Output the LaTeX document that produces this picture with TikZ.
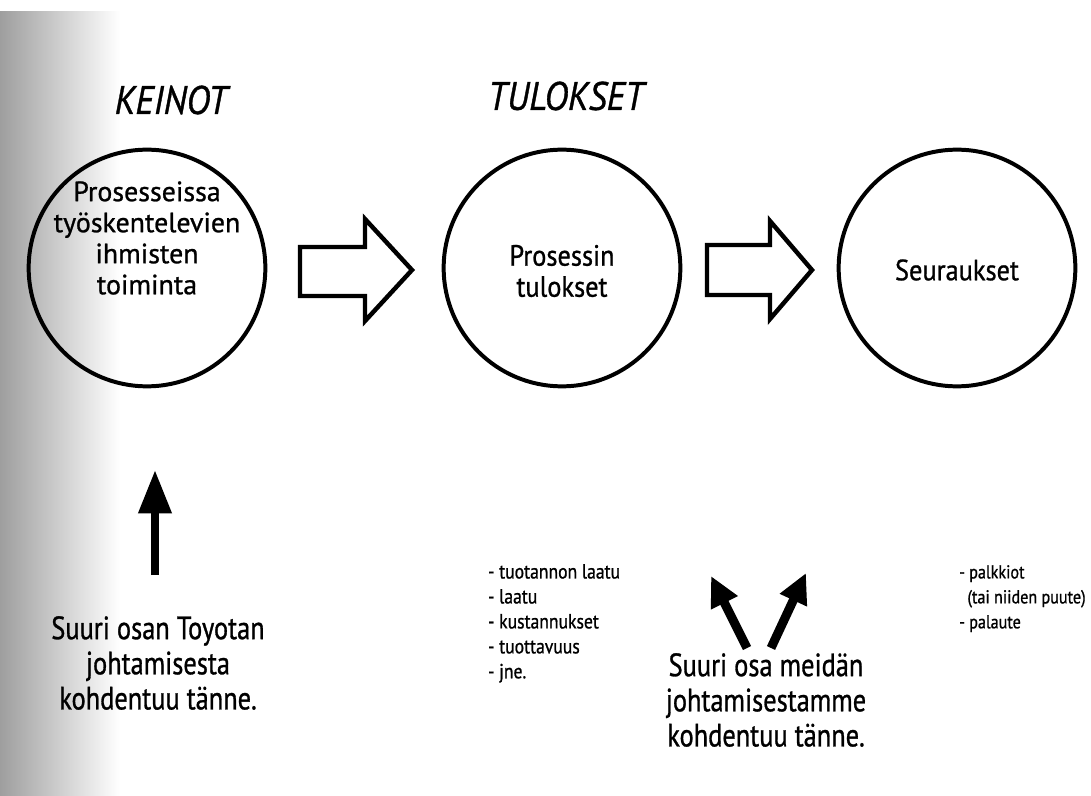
\documentclass[tikz,border=0pt]{standalone}
\usepackage{fontspec}
\setmainfont{PT Sans}
\newfontfamily\cfa[FakeStretch=0.9,FakeBold=0.9]{PT Sans}
\newfontfamily\cfd[FakeBold=0.9]{PT Sans}
\newfontfamily\cfb[FakeStretch=0.82,FakeBold=0.9]{PT Sans}
\newfontfamily\cfc[FakeStretch=0.86,FakeBold=0.9]{PT Sans}
\usetikzlibrary{arrows.meta}
\begin{document}
\begin{tikzpicture}[x=0.03cm,y=-0.03cm,
  circ/.style={draw, circle, line width=3.4pt, minimum size=7.1cm, inner sep=0pt},
  ctext/.style={align=center, font=\cfa\fontsize{25}{26.5}\selectfont},
  ctextbig/.style={align=center, font=\cfd\fontsize{23.8}{26.5}\selectfont},
  title/.style={font=\cfa\fontsize{34}{36}\selectfont\itshape},
  listtext/.style={align=left, anchor=north west, font=\cfc\fontsize{17.5}{21.3}\selectfont},
  listsmall/.style={align=left, anchor=north west, font=\cfc\fontsize{16}{21.3}\selectfont},
  note/.style={align=center, font=\cfb\fontsize{27.5}{30}\selectfont},
  blockarrow/.style={draw, line width=3.8pt, line join=miter, fill=white},
  thickarrow/.style={line width=0.27cm, -{Triangle[length=0.9cm,width=0.84cm]}},
  uparrow/.style={line width=0.24cm, -{Triangle[length=1.3cm,width=0.95cm]}}
]
\useasboundingbox (0,0) rectangle (1091,796);
\fill[white] (0,0) rectangle (1091,796);
\shade[left color=black!38, right color=white] (0,12) rectangle (120,796);

% circles
\node[circ] (c1) at (147,268) {};
\node[circ] (c2) at (562,268) {};
\node[circ] (c3) at (957,268) {};

% titles
\node[title] (t1) at (171,100) {KEINOT};
\node[title] (t2) at (566,96) {TULOKSET};

% circle texts
\node[ctextbig] (x1) at (147,238) {Prosesseissa\\työskentelevien\\ihmisten\\toiminta};
\node[ctext] (x2) at (562,271) {Prosessin\\tulokset};
\node[ctext] (x3) at (957,270) {Seuraukset};

% block arrows
\draw[blockarrow] (300,247) -- (365,247) -- (365,219) -- (412,270) -- (365,321) -- (365,296) -- (300,296) -- cycle;
\draw[blockarrow] (707,245) -- (770,245) -- (770,221) -- (812,270) -- (770,319) -- (770,295) -- (707,295) -- cycle;

% lists
\node[listtext] (l2) at (484,560) {- tuotannon laatu\\- laatu\\- kustannukset\\- tuottavuus\\- jne.};
\node[listsmall] (l3) at (955,561) {- palkkiot\\\hspace*{0.25cm}(tai niiden puute)\\- palaute};

% notes
\node[note] (n1) at (158,663) {Suuri osan Toyotan\\johtamisesta\\kohdentuu tänne.};
\node[note] (n2) at (766,700) {Suuri osa meidän\\johtamisestamme\\kohdentuu tänne.};

% arrows
\coordinate (ub) at (155,575);
\coordinate (ut) at (155,470);
\draw[uparrow] (ub) -- (ut);
\coordinate (vb1) at (747,648);
\coordinate (vt1) at (711,576);
\coordinate (vb2) at (771,648);
\coordinate (vt2) at (806,573);
\draw[thickarrow] (vb1) -- (vt1);
\draw[thickarrow] (vb2) -- (vt2);
\end{tikzpicture}
\end{document}
